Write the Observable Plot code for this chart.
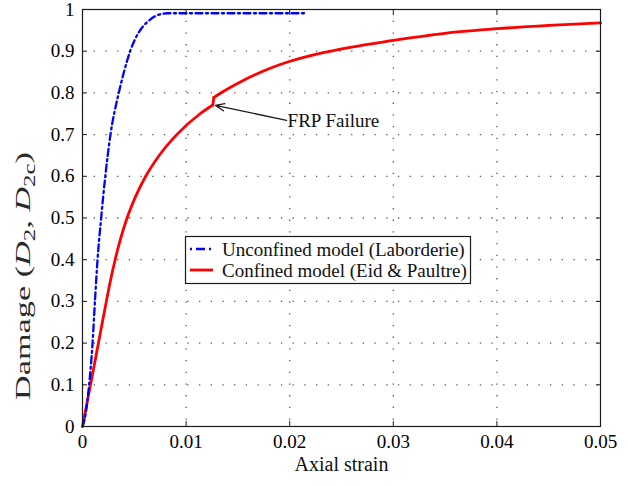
<!DOCTYPE html>
<html><head><meta charset="utf-8">
<script src="https://cdn.jsdelivr.net/npm/d3@7"></script>
<script src="https://cdn.jsdelivr.net/npm/@observablehq/plot@0.6"></script>
<style>
html,body{margin:0;padding:0;background:#fff;}
#chart{position:relative;width:628px;height:486px;overflow:hidden;}
</style></head><body>
<div id="chart"></div>
<script>
// Unconfined model (Laborderie) – blue dash-dot
const unconfinedStrain = [0, 0.0003, 0.00064, 0.00097, 0.0012, 0.00145, 0.0018, 0.0022, 0.0027, 0.0035, 0.0040, 0.0046, 0.0051, 0.0057, 0.0065, 0.0073, 0.0082, 0.0215];
const unconfinedDamage = [0, 0.03, 0.1, 0.2, 0.3, 0.4, 0.5, 0.6, 0.7, 0.8, 0.85, 0.9, 0.93, 0.955, 0.975, 0.987, 0.991, 0.991];
// Confined model (Eid & Paultre) – red solid (with the FRP-failure jump)
const confinedStrain = [0, 0.00077, 0.00154, 0.0023, 0.0027, 0.00315, 0.00367, 0.0043, 0.0051, 0.0061, 0.0074, 0.0091, 0.01135, 0.01258, 0.01268, 0.0135, 0.0156, 0.018, 0.0198, 0.0235, 0.030, 0.035, 0.040, 0.045, 0.050];
const confinedDamage = [0, 0.1, 0.2, 0.3, 0.35, 0.4, 0.45, 0.5, 0.55, 0.6, 0.65, 0.7, 0.75, 0.771, 0.789, 0.802, 0.831, 0.858, 0.874, 0.898, 0.926, 0.943, 0.954, 0.962, 0.968];

const seriesNames = ["Unconfined model (Laborderie)", "Confined model (Eid & Paultre)"];
const xTicks = [0, 0.01, 0.02, 0.03, 0.04, 0.05];
const xTickLabels = ["0", "0.01", "0.02", "0.03", "0.04", "0.05"];
const yTicks = [0, 0.1, 0.2, 0.3, 0.4, 0.5, 0.6, 0.7, 0.8, 0.9, 1];
const yTickLabels = ["0", "0.1", "0.2", "0.3", "0.4", "0.5", "0.6", "0.7", "0.8", "0.9", "1"];
const xLabel = "Axial strain";
const annotationText = ["FRP Failure"];
const annotationHead = [0.01284, 0.770];   // arrow tip (strain, damage)
const annotationTail = [0.0197, 0.734];    // arrow tail / label anchor

const unconfined = unconfinedStrain.map((x, i) => ({x, y: unconfinedDamage[i]}));

// split the confined curve into: smooth part before failure, the jump, smooth part after
let jump = 0, best = -Infinity;
for (let i = 1; i < confinedStrain.length; i++) {
  const slope = (confinedDamage[i] - confinedDamage[i - 1]) / (confinedStrain[i] - confinedStrain[i - 1]);
  if (slope > best) { best = slope; jump = i; }
}
const confined = [];
confinedStrain.forEach((x, i) => {
  const y = confinedDamage[i];
  if (i < jump) confined.push({x, y, seg: "pre"});
  if (i === jump - 1 || i === jump) confined.push({x, y, seg: "jump"});
  if (i >= jump) confined.push({x, y, seg: "post"});
});

const notes = annotationText.map(t => ({text: t, x1: annotationTail[0], y1: annotationTail[1], x2: annotationHead[0], y2: annotationHead[1]}));

const FONT = "'Liberation Serif', 'Times New Roman', serif";
const gridStyle = {stroke: "#555", strokeOpacity: 1, strokeWidth: 1.3, strokeDasharray: "1.3,10.4"};

const svg = Plot.plot({
  width: 628, height: 486,
  marginLeft: 82, marginRight: 28, marginTop: 9, marginBottom: 60,
  style: {fontFamily: FONT, fontSize: "19px", color: "#000", background: "#fff"},
  x: {domain: [0, 0.05]},
  y: {domain: [0, 1]},
  marks: [
    Plot.gridX(xTicks.slice(1, -1), gridStyle),
    Plot.gridY(yTicks.slice(1, -1), gridStyle),
    Plot.line(confined, {x: "x", y: "y", z: "seg", stroke: "#ff0000", strokeWidth: 2.8, curve: "monotone-x"}),
    Plot.line(unconfined, {x: "x", y: "y", stroke: "#0000ff", strokeWidth: 2.3, strokeDasharray: "7,3.5,2,3.5", curve: "monotone-x"}),
    Plot.arrow(notes, {x1: "x1", y1: "y1", x2: "x2", y2: "y2", stroke: "#1a1a1a", strokeWidth: 1.3, headLength: 11, headAngle: 45}),
    Plot.text(notes, {x: "x1", y: "y1", text: "text", textAnchor: "start", dx: 1, fontSize: 19, fill: "#111"}),
    Plot.frame({stroke: "#1a1a1a", strokeWidth: 1.2}),
    Plot.axisX(xTicks, {anchor: "bottom", tickSize: -5, tickPadding: 13, tickFormat: d => xTickLabels[xTicks.indexOf(d)], fontSize: 19, label: null, stroke: "#1a1a1a"}),
    Plot.axisX(xTicks, {anchor: "top", tickSize: -5, tickFormat: () => "", label: null, stroke: "#1a1a1a"}),
    Plot.axisY(yTicks, {anchor: "left", tickSize: -5, tickPadding: 13, tickFormat: d => yTickLabels[yTicks.indexOf(d)], fontSize: 19, label: null, stroke: "#1a1a1a"}),
    Plot.axisY(yTicks, {anchor: "right", tickSize: -5, tickFormat: () => "", label: null, stroke: "#1a1a1a"}),
    Plot.text([xLabel], {text: d => d, frameAnchor: "bottom", dy: 44, fontSize: 20, fill: "#111"})
  ]
});

const s = d3.select(svg);

// Y-axis label with italic symbols and subscripts
const yl = s.append("text")
  .attr("transform", "translate(30,400) rotate(-90)")
  .attr("text-anchor", "start")
  .attr("font-family", FONT)
  .attr("font-size", 22)
  .attr("fill", "#2a2a2a")
  .attr("textLength", 248)
  .attr("lengthAdjust", "spacingAndGlyphs");
yl.append("tspan").text("Damage (");
yl.append("tspan").attr("font-style", "italic").text("D");
yl.append("tspan").attr("font-size", 16).attr("dy", 5).text("2");
yl.append("tspan").attr("dy", -5).text(", ");
yl.append("tspan").attr("font-style", "italic").text("D");
yl.append("tspan").attr("font-size", 16).attr("dy", 5).text("2c");
yl.append("tspan").attr("dy", -5).text(")");

// Legend
const lg = s.append("g").attr("font-family", FONT).attr("font-size", 19).attr("fill", "#111").attr("text-anchor", "start");
lg.append("rect").attr("x", 185.5).attr("y", 236.5).attr("width", 285).attr("height", 47)
  .attr("fill", "#fff").attr("stroke", "#1a1a1a").attr("stroke-width", 1.2);
const rows = [
  {stroke: "#0000ff", dash: "2,4,9,4,2,10", width: 2.3, y: 249},
  {stroke: "#ff0000", dash: null, width: 2.8, y: 270}
];
rows.forEach((r, i) => {
  lg.append("line").attr("x1", 190).attr("x2", 213).attr("y1", r.y).attr("y2", r.y)
    .attr("stroke", r.stroke).attr("stroke-width", r.width).attr("stroke-dasharray", r.dash);
  lg.append("text").attr("x", 222).attr("y", r.y).attr("dy", "0.35em").text(seriesNames[i]);
});

document.getElementById("chart").appendChild(svg);
</script>
</body></html>
